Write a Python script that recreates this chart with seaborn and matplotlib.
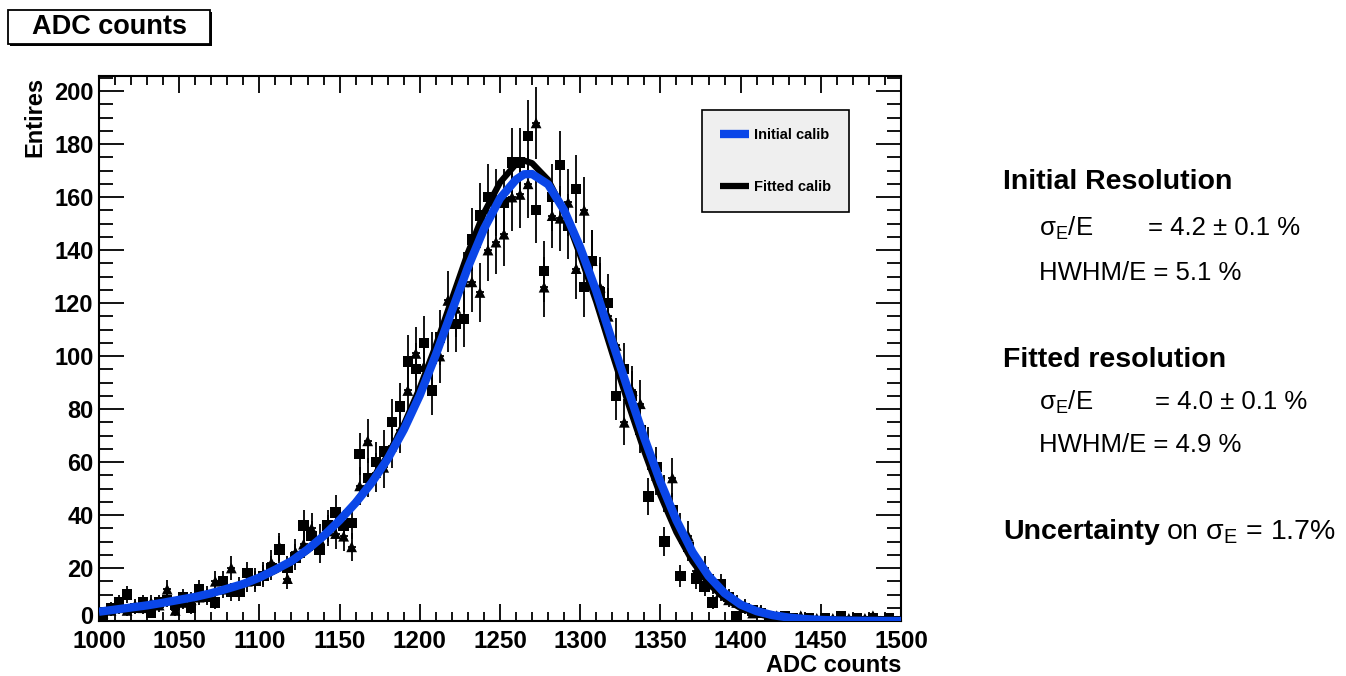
import numpy as np
import pandas as pd
import matplotlib
matplotlib.use("Agg")
import matplotlib.pyplot as plt
import matplotlib.transforms as mtransforms
from matplotlib.ticker import MultipleLocator
from matplotlib.patches import Rectangle
import seaborn as sns

# ---------------- data ----------------
bin_low = 1000.0
bin_width = 5.0
# histogram contents (100 bins of 5 ADC, 1000-1500)
counts_squares = [1, 5, 7, 10, 5, 7, 3, 7, 8, 6,
                  9, 5, 12, 9, 7, 15, 11, 11, 18, 15,
                  17, 20, 27, 20, 24, 36, 32, 27, 36, 41,
                  36, 37, 63, 54, 60, 64, 75, 81, 98, 95,
                  105, 87, 107, 112, 112, 114, 144, 153, 160, 158,
                  158, 173, 173, 183, 155, 132, 160, 172, 149, 163,
                  126, 136, 124, 120, 85, 95, 85, 72, 47, 58,
                  30, 42, 17, 28, 16, 13, 7, 14, 9, 2,
                  5, 4, 3, 2, 1, 2, 1, 0, 1, 0,
                  1, 0, 2, 0, 1, 0, 1, 0, 1, 0]
counts_triangles = [3, 4, 5, 4, 6, 5, 7, 6, 12, 4,
                    7, 8, 9, 10, 15, 12, 20, 13, 15, 16,
                    18, 22, 28, 16, 26, 29, 35, 31, 34, 33,
                    32, 28, 51, 68, 56, 58, 66, 72, 87, 101,
                    96, 99, 100, 121, 118, 128, 128, 124, 140, 143,
                    146, 160, 161, 165, 188, 126, 153, 152, 158, 133,
                    155, 136, 126, 115, 104, 75, 87, 82, 65, 55,
                    48, 54, 35, 32, 19, 20, 14, 11, 8, 7,
                    6, 3, 4, 2, 2, 1, 1, 2, 0, 1,
                    0, 1, 0, 1, 0, 1, 2, 0, 1, 0]

# fit curves
curve_adc = [1000, 1010, 1020, 1030, 1040, 1050, 1060, 1070, 1080, 1090,
             1100, 1110, 1120, 1130, 1140, 1150, 1160, 1170, 1180, 1190,
             1200, 1210, 1220, 1230, 1240, 1250, 1260, 1265, 1270, 1280,
             1290, 1300, 1310, 1320, 1330, 1340, 1350, 1360, 1370, 1380,
             1390, 1400, 1410, 1420, 1430, 1440, 1450, 1460, 1470, 1480,
             1490, 1500]
curve_initial = [3.5, 4.3, 5.1, 5.9, 6.9, 8.0, 9.1, 10.5, 12.2, 14.0,
                 16.4, 19.4, 22.6, 27.0, 32.1, 38.0, 44.6, 52.2, 61.2, 72.2,
                 85.2, 100.5, 117.0, 133.5, 148.0, 159.5, 166.6, 168.6, 168.7, 164.8,
                 155.0, 141.0, 124.5, 105.5, 87.0, 69.0, 52.5, 38.0, 26.0, 17.0,
                 10.5, 6.2, 3.7, 2.2, 1.3, 0.75, 0.4, 0.2, 0.1, 0.05,
                 0.02, 0.01]
curve_fitted = [3.5, 4.2, 5.0, 5.8, 6.8, 7.8, 8.9, 10.3, 12.0, 13.8,
                16.1, 19.0, 22.2, 26.6, 31.8, 37.8, 44.8, 53.0, 62.5, 74.0,
                88.0, 104.0, 121.5, 139.0, 154.0, 165.5, 172.5, 173.8, 172.8, 166.5,
                154.5, 138.0, 120.5, 101.0, 82.0, 64.0, 47.5, 33.5, 22.5, 14.2,
                8.5, 4.9, 2.7, 1.4, 0.7, 0.35, 0.17, 0.08, 0.04, 0.02,
                0.01, 0.0]

x_ticks = [1000, 1050, 1100, 1150, 1200, 1250, 1300, 1350, 1400, 1450, 1500]
y_ticks = [0, 20, 40, 60, 80, 100, 120, 140, 160, 180, 200]

# ---------------- figure ----------------
sns.set_theme(style="ticks")
plt.rcParams['font.family'] = ['Liberation Sans', 'DejaVu Sans']
plt.rcParams['mathtext.fontset'] = 'custom'
plt.rcParams['mathtext.rm'] = 'Liberation Sans'
plt.rcParams['mathtext.it'] = 'Liberation Sans:italic'
plt.rcParams['mathtext.bf'] = 'Liberation Sans:bold'
plt.rcParams['text.color'] = 'black'
plt.rcParams['xtick.color'] = 'black'
plt.rcParams['ytick.color'] = 'black'
plt.rcParams['xtick.labelcolor'] = 'black'
plt.rcParams['ytick.labelcolor'] = 'black'
plt.rcParams['legend.labelcolor'] = 'black'

W, H = 1346, 676
fig = plt.figure(figsize=(W / 100, H / 100), dpi=100)
fig.patch.set_facecolor('white')

def fx(px):
    return px / W

def fy(py):
    return 1 - py / H

ax = fig.add_axes([fx(99), fy(621), (901 - 99) / W, (621 - 76) / H])
ax.set_facecolor('white')

n_bins = len(counts_squares)
centers = bin_low + bin_width * (np.arange(n_bins) + 0.5)
df_hist = pd.DataFrame({
    'adc': centers,
    'sq': counts_squares,
    'tri': counts_triangles,
})
df_hist['sq_err'] = np.sqrt(df_hist['sq'])
df_hist['tri_err'] = np.sqrt(df_hist['tri'])

# error bars
ax.errorbar(df_hist['adc'], df_hist['sq'], yerr=df_hist['sq_err'], xerr=bin_width / 2,
            fmt='none', ecolor='black', elinewidth=1.3, capsize=0, zorder=2)
ax.errorbar(df_hist['adc'], df_hist['tri'], yerr=df_hist['tri_err'], xerr=bin_width / 2,
            fmt='none', ecolor='black', elinewidth=1.3, capsize=0, zorder=2)
# markers
sns.scatterplot(data=df_hist, x='adc', y='sq', marker='s', s=55, color='black',
                edgecolor='none', ax=ax, zorder=3, legend=False)
sns.scatterplot(data=df_hist, x='adc', y='tri', marker='^', s=60, color='black',
                edgecolor='none', ax=ax, zorder=3, legend=False)

df_curve = pd.DataFrame({'adc': curve_adc, 'initial': curve_initial, 'fitted': curve_fitted})
n0 = len(ax.get_lines())
sns.lineplot(data=df_curve, x='adc', y='fitted', color='black', lw=4.5, ax=ax,
             zorder=4, legend=False, solid_joinstyle='round', solid_capstyle='butt')
sns.lineplot(data=df_curve, x='adc', y='initial', color='#0a46e8', lw=6.0, ax=ax,
             zorder=5, legend=False, solid_joinstyle='round', solid_capstyle='butt')
lines = ax.get_lines()[n0:]
line_fit, line_init = lines[0], lines[1]

ax.set_xlim(1000, 1500)
ax.set_ylim(0, 205.7)
ax.set_xticks(x_ticks)
ax.set_yticks(y_ticks)
ax.xaxis.set_minor_locator(MultipleLocator(10))
ax.yaxis.set_minor_locator(MultipleLocator(5))
ax.set_xticklabels([str(v) for v in x_ticks], fontsize=17.5, fontweight='bold', color='black')
ylabels = ax.set_yticklabels([str(v) for v in y_ticks], fontsize=17, fontweight='bold', color='black')
ax.tick_params(which='both', direction='in', top=True, right=True, color='black', width=1.3)
ax.tick_params(axis='x', which='major', length=12, pad=6.5)
ax.tick_params(axis='x', which='minor', length=6.5)
ax.tick_params(axis='y', which='major', length=18, pad=4)
ax.tick_params(axis='y', which='minor', length=10)
for sp in ax.spines.values():
    sp.set_color('black')
    sp.set_linewidth(1.5)
ax.set_xlabel('')
ax.set_ylabel('')
# nudge the "0" label up a little so it does not collide with "1000"
zero_lbl = ylabels[0]
zero_lbl.set_transform(zero_lbl.get_transform() +
                       mtransforms.ScaledTranslation(0, 4 / 72, fig.dpi_scale_trans))

# axis titles
fig.text(fx(901), fy(665), 'ADC counts', ha='right', va='center', fontsize=17, fontweight='bold')
fig.text(fx(35), fy(77), 'Entires', ha='center', va='top', rotation=90, fontsize=17, fontweight='bold')

# legend
leg = ax.legend([line_init, line_fit], ['Initial calib', 'Fitted calib'],
                loc='upper left', bbox_to_anchor=(fx(702), fy(110)), bbox_transform=fig.transFigure,
                prop={'size': 10.5, 'weight': 'bold'}, frameon=True, fancybox=False, shadow=False,
                borderpad=1.25, labelspacing=2.6, handlelength=2.0, handletextpad=0.3,
                borderaxespad=0.0, framealpha=1.0)
leg.get_frame().set_facecolor('#efefef')
leg.get_frame().set_edgecolor('black')
leg.get_frame().set_linewidth(1.2)
leg.set_zorder(10)

# title box
fig.patches.append(Rectangle((fx(10), fy(46)), 202 / W, 34 / H, transform=fig.transFigure,
                             facecolor='black', edgecolor='none', zorder=1))
fig.patches.append(Rectangle((fx(8), fy(44)), 202 / W, 34 / H, transform=fig.transFigure,
                             facecolor='white', edgecolor='black', linewidth=1.3, zorder=2))
fig.text(fx(109), fy(27), 'ADC counts', ha='center', va='center', fontsize=19.5, fontweight='bold', zorder=3)

# right-hand annotations
fs_h = 20.5
fs_t = 18.5
sig = r'σ$_{\mathregular{E}}$/E'
fig.text(fx(1003), fy(182), 'Initial Resolution', ha='left', va='center', fontsize=fs_h, fontweight='bold')
fig.text(fx(1039), fy(228), sig, ha='left', va='center', fontsize=fs_t)
fig.text(fx(1148), fy(228), '= 4.2 ± 0.1 %', ha='left', va='center', fontsize=fs_t)
fig.text(fx(1039), fy(273), 'HWHM/E = 5.1 %', ha='left', va='center', fontsize=fs_t)

fig.text(fx(1003), fy(360), 'Fitted resolution', ha='left', va='center', fontsize=fs_h, fontweight='bold')
fig.text(fx(1039), fy(402), sig, ha='left', va='center', fontsize=fs_t)
fig.text(fx(1155), fy(402), '= 4.0 ± 0.1 %', ha='left', va='center', fontsize=fs_t)
fig.text(fx(1039), fy(445), 'HWHM/E = 4.9 %', ha='left', va='center', fontsize=fs_t)

t_unc = fig.text(fx(1003), fy(532), 'Uncertainty', ha='left', va='center', fontsize=fs_h, fontweight='bold')
fig.canvas.draw()
bb = t_unc.get_window_extent()
fig.text(bb.x1 / W + 6 / W, fy(532), r'on σ$_{\mathregular{E}}$ = 1.7%', ha='left', va='center', fontsize=fs_h)

fig.savefig('out.png', dpi=100, facecolor='white')
